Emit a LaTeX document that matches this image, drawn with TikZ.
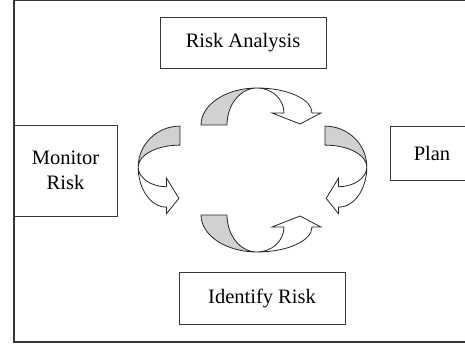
\documentclass[tikz,border=0pt]{standalone}
\usepackage{fontspec}
\setmainfont{Liberation Serif}
\usepackage{xcolor}
\usepackage{tikz}
\usetikzlibrary{positioning}
\definecolor{framegray}{RGB}{55,55,55}
\definecolor{twistgray}{RGB}{208,209,208}

% twisted curved arrow, drawn in its own frame
\newcommand{\twistarrow}[1]{%
\begin{scope}[#1]
\draw[twistback] (-56,0) -- (-30,0) arc[start angle=180,end angle=90,x radius=30,y radius=37]
    arc[start angle=90,end angle=180,x radius=56,y radius=37] -- cycle;
\draw[twistfront] (0,37) arc[start angle=90,end angle=0,x radius=55,y radius=25] -- (64,12) -- (43,1)
    -- (15,12) -- (27,12) arc[start angle=0,end angle=90,x radius=27,y radius=25] -- cycle;
\end{scope}}

\begin{document}
\begin{tikzpicture}[
    x=1pt, y=1pt,
    font=\fontsize{20.5}{25}\selectfont,
    box/.style={draw=framegray, line width=0.9pt, align=center, inner sep=0pt, outer sep=0pt},
    twistback/.style={draw=black!85, line width=0.8pt, fill=twistgray, line join=round},
    twistfront/.style={draw=black!85, line width=0.8pt, fill=white, line join=miter},
    frame/.style={draw=framegray, line width=1.3pt}
]
\useasboundingbox (0,0) rectangle (465,-347);
\clip (0,0) rectangle (465,-347);
\draw[frame] (480,-0.8) -- (14,-0.8) -- (14,-342) -- (480,-342);

\node[box, minimum width=166, minimum height=51] (analysis) at (243,-42.5) {Risk Analysis};
\node[box, minimum width=103, minimum height=91] (monitor) at (65.5,-170.5) {Monitor\\Risk};
\node[box, minimum width=84, minimum height=54] (plan) at (432,-153) {Plan};
\node[box, minimum width=166, minimum height=52] (identify) at (262,-298) {Identify Risk};

\twistarrow{shift={(257,-125)}}
\twistarrow{shift={(257,-215)}, yscale=-1}
\twistarrow{cm={0,-0.73,-1.13,0,(180,-167)}}
\twistarrow{cm={0,-0.73,1.13,0,(325,-167)}}
\end{tikzpicture}
\end{document}
